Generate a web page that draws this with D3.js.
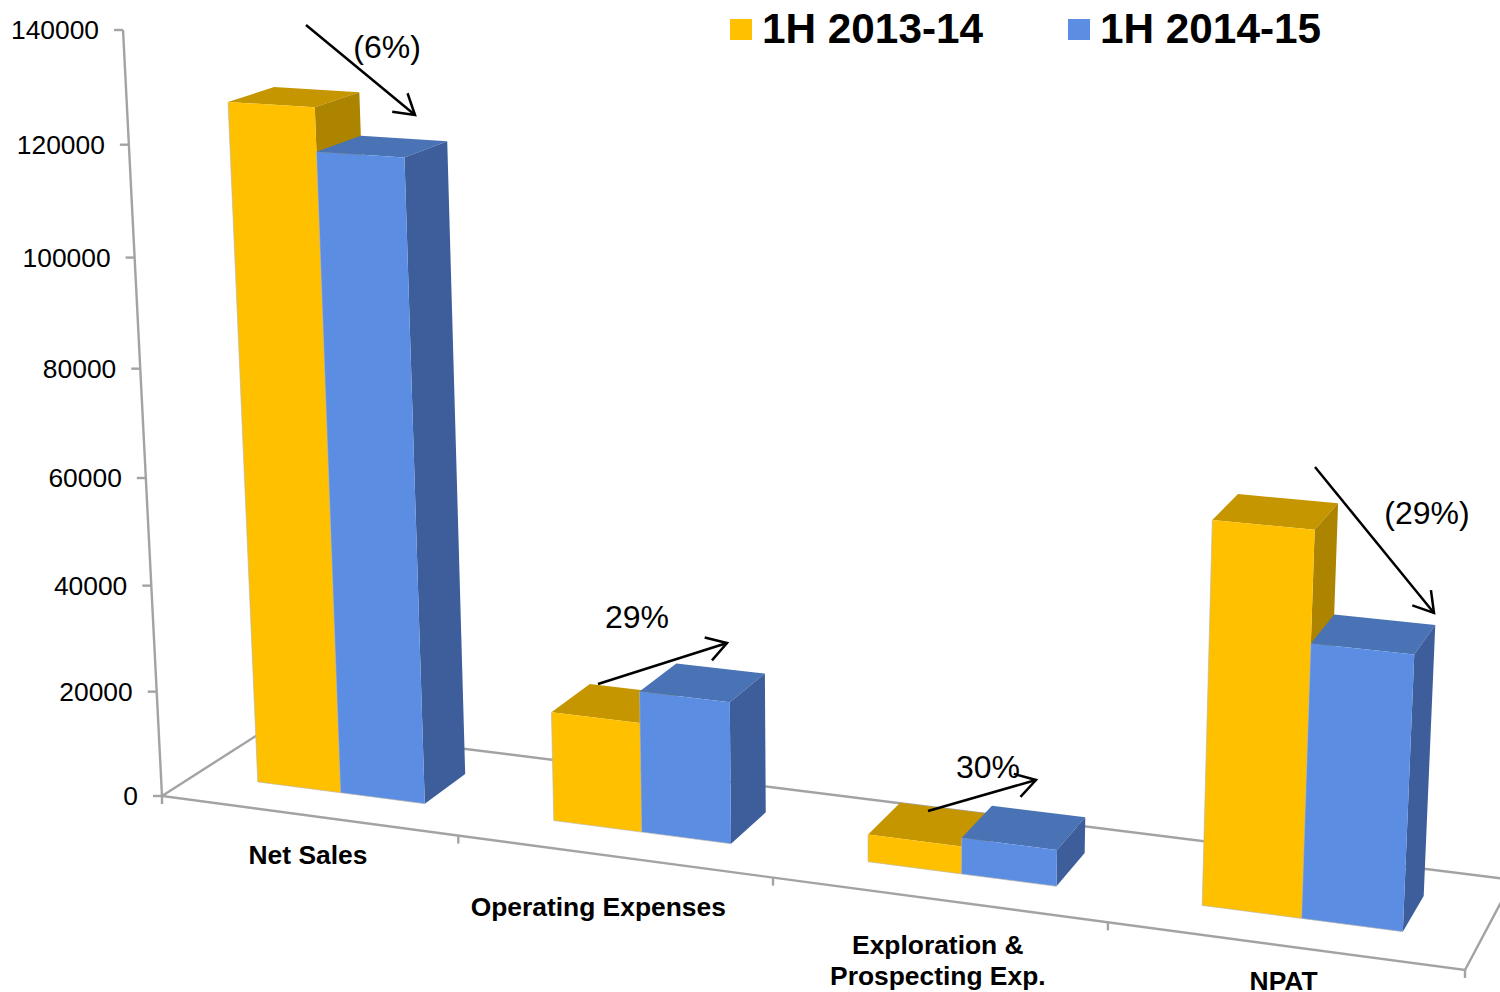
<!DOCTYPE html>
<html>
<head>
<meta charset="utf-8">
<script src="https://cdn.jsdelivr.net/npm/d3@7"></script>
<style>
  body { margin: 0; background: #fff; }
  svg { display: block; }
  text { font-family: "Liberation Sans", Arial, sans-serif; fill: #000; }
</style>
</head>
<body>
<svg width="1500" height="992"></svg>
<script>
(function (d3) {
    'use strict';

    const categories = ['Net Sales', 'Operating Expenses', 'Exploration &|Prospecting Exp.', 'NPAT'];
    const seriesNames = ['1H 2013-14', '1H 2014-15'];
    const values2013 = [126200, 20400, 5000, 67300];
    const values2014 = [118400, 26200, 6600, 48000];
    const seriesValues = [values2013, values2014];
    const changeLabels = ['(6%)', '29%', '30%', '(29%)'];

    const front = ['#ffc000', '#5b8ee2'];
    const top = ['#c69600', '#4a73b5'];
    const side = ['#ac8400', '#3d5e9a'];
    const axisColor = '#a3a3a3';

    const svg = d3.select('svg');

    // scales work in chart space (0..1 on each of the three axes)
    const valueScale = d3.scaleLinear().domain([0, 140000]).range([0, 1]);
    const catScale = d3.scaleBand().domain(d3.range(categories.length)).range([0, 1])
        .paddingInner(0.4286)
        .paddingOuter(0.2143);
    const seriesScale = d3.scaleBand().domain([0, 1]).range([0, catScale.bandwidth()]);
    const depth = { near: 0.3, far: 0.7 };

    // perspective of the 3D chart, fitted to the axis corners
    const project = (u, v, w) => {
        const d = 1 - 0.117 * u - 0.0536 * v + 0.0554 * w;
        return [
            (162 + 1131.6 * u - 45.56 * v + 126.1 * w) / d,
            (796 + 60.5 * u - 767.6 * v - 30.9 * w) / d
        ];
    };
    const poly = d3.line().curve(d3.curveLinearClosed);
    const line = d3.line();

    // floor and wall edges
    const axes = svg.append('g')
        .attr('fill', 'none')
        .attr('stroke', axisColor)
        .attr('stroke-width', 2.4);
    axes.append('path').attr('d', line([project(0, 0, 0), project(0, 1, 0)]));
    axes.append('path').attr('d', line([project(0, 0, 1), project(0, 0, 0), project(1, 0, 0), project(1, 0, 1), project(0, 0, 1)]));

    // value axis ticks and labels
    const yTicks = valueScale.ticks(7);
    axes.selectAll('.ytick').data(yTicks)
        .enter().append('path')
            .attr('class', 'ytick')
            .attr('d', d => {
                const p = project(0, valueScale(d), 0);
                return line([p, [p[0] - 9, p[1]]]);
            });
    svg.selectAll('.ylabel').data(yTicks)
        .enter().append('text')
            .attr('class', 'ylabel')
            .attr('x', d => project(0, valueScale(d), 0)[0] - 24)
            .attr('y', d => project(0, valueScale(d), 0)[1])
            .attr('dy', '0.35em')
            .attr('text-anchor', 'end')
            .attr('font-size', 26.4)
            .text(d => d);

    // category ticks
    axes.selectAll('.xtick').data(d3.range(categories.length + 1))
        .enter().append('path')
            .attr('class', 'xtick')
            .attr('d', i => {
                const p = project(i / categories.length, 0, 0);
                return line([p, [p[0], p[1] + 8]]);
            });

    // bars, first series behind the second
    const bars = [];
    seriesValues.forEach((vals, s) => {
        vals.forEach((val, c) => {
            bars.push({
                s: s,
                u0: catScale(c) + seriesScale(s),
                u1: catScale(c) + seriesScale(s) + seriesScale.bandwidth(),
                v: valueScale(val)
            });
        });
    });
    const barG = svg.selectAll('.bar').data(bars)
        .enter().append('g')
            .attr('class', 'bar');
    barG.append('path')
        .attr('fill', d => top[d.s])
        .attr('d', d => poly([
            project(d.u0, d.v, depth.near), project(d.u1, d.v, depth.near),
            project(d.u1, d.v, depth.far), project(d.u0, d.v, depth.far)
        ]));
    barG.append('path')
        .attr('fill', d => side[d.s])
        .attr('d', d => poly([
            project(d.u1, 0, depth.near), project(d.u1, d.v, depth.near),
            project(d.u1, d.v, depth.far), project(d.u1, 0, depth.far)
        ]));
    barG.append('path')
        .attr('fill', d => front[d.s])
        .attr('d', d => poly([
            project(d.u0, 0, depth.near), project(d.u1, 0, depth.near),
            project(d.u1, d.v, depth.near), project(d.u0, d.v, depth.near)
        ]));
    // thin pale edge along the foot and left side of each front face
    barG.append('path')
        .attr('fill', 'none')
        .attr('stroke', '#b9b5a8')
        .attr('stroke-width', 0.8)
        .attr('stroke-opacity', 0.8)
        .attr('d', d => line([
            project(d.u0, d.v, depth.near), project(d.u0, 0, depth.near), project(d.u1, 0, depth.near)
        ]));

    // category labels, under the front edge
    const labelDrop = [40, 51, 76, 35];
    const labelShift = [0, -15, 0, 0];
    svg.selectAll('.cat').data(categories)
        .enter().append('text')
            .attr('class', 'cat')
            .attr('text-anchor', 'middle')
            .attr('font-size', 26.4)
            .attr('font-weight', 'bold')
            .each(function (d, i) {
                const p = project((i + 0.5) / categories.length, 0, 0);
                const parts = d.split('|');
                d3.select(this).selectAll('tspan').data(parts)
                    .enter().append('tspan')
                        .attr('x', p[0] + labelShift[i])
                        .attr('y', (t, j) => p[1] + labelDrop[i] + 9 - (parts.length - 1) * 31 + j * 31)
                        .text(t => t);
            });

    // hand drawn change arrows that sit over the chart
    const callouts = [
        { x1: 306, y1: 25, x2: 415, y2: 115, tx: 387, ty: 58 },
        { x1: 598, y1: 684, x2: 727, y2: 643, tx: 637, ty: 628 },
        { x1: 928, y1: 811, x2: 1036, y2: 780, tx: 988, ty: 778 },
        { x1: 1315, y1: 467, x2: 1434, y2: 613, tx: 1427, ty: 524 }
    ];
    svg.selectAll('.change').data(callouts)
        .enter().append('text')
            .attr('class', 'change')
            .attr('x', d => d.tx)
            .attr('y', d => d.ty)
            .attr('text-anchor', 'middle')
            .attr('font-size', 32)
            .text((d, i) => changeLabels[i]);
    const arrow = svg.selectAll('.arrow').data(callouts)
        .enter().append('g')
            .attr('class', 'arrow')
            .attr('fill', 'none')
            .attr('stroke', '#000')
            .attr('stroke-width', 2.5);
    arrow.append('path').attr('d', d => line([[d.x1, d.y1], [d.x2, d.y2]]));
    arrow.append('path').attr('d', d => {
        const a = Math.atan2(d.y1 - d.y2, d.x1 - d.x2);
        const head = 23, spread = 0.55;
        return line([
            [d.x2 + head * Math.cos(a - spread), d.y2 + head * Math.sin(a - spread)],
            [d.x2, d.y2],
            [d.x2 + head * Math.cos(a + spread), d.y2 + head * Math.sin(a + spread)]
        ]);
    });

    // legend
    const legendX = d3.scaleOrdinal().domain(seriesNames).range([730, 1068]);
    const legend = svg.selectAll('.legend').data(seriesNames)
        .enter().append('g')
            .attr('class', 'legend')
            .attr('transform', d => `translate(${legendX(d)}, 0)`);
    legend.append('rect')
        .attr('y', 19)
        .attr('width', 22)
        .attr('height', 21)
        .attr('fill', (d, i) => front[i]);
    legend.append('text')
        .attr('x', 32)
        .attr('y', 43)
        .attr('font-size', 42.3)
        .attr('font-weight', 'bold')
        .text(d => d);
}(d3));
</script>
</body>
</html>
